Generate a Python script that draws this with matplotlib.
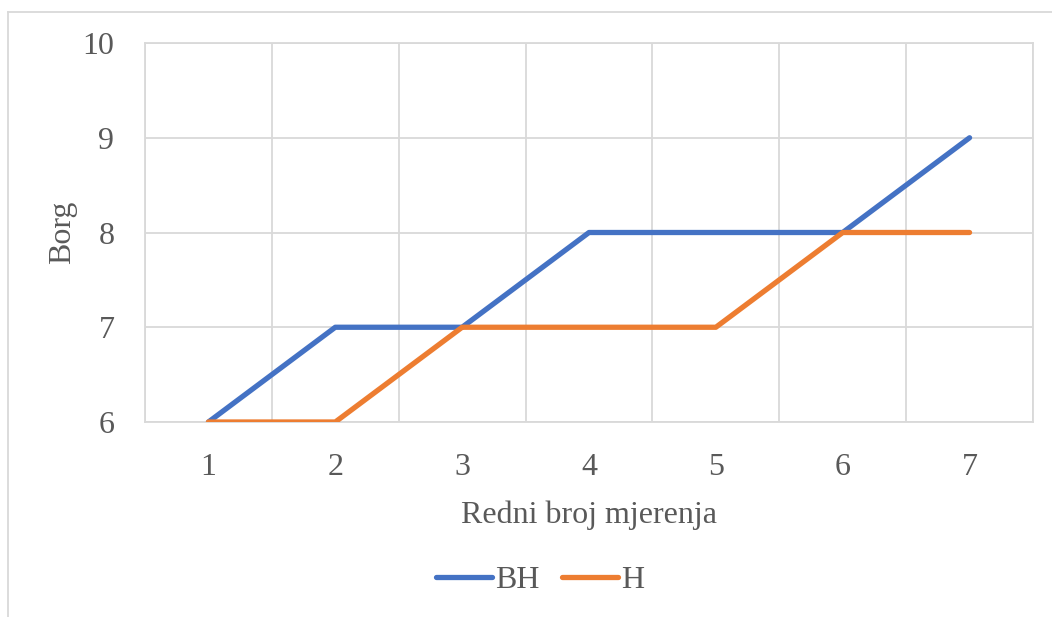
import matplotlib
matplotlib.use("Agg")
import matplotlib.pyplot as plt
from matplotlib.lines import Line2D

x_labels = [1, 2, 3, 4, 5, 6, 7]
bh = [6, 7, 7, 8, 8, 8, 9]
h = [6, 6, 7, 7, 7, 8, 8]

plt.rcParams['font.family'] = ['Liberation Serif', 'DejaVu Serif']
fig = plt.figure(figsize=(10.52, 6.17), dpi=100)
W, H = 1052, 617
ax = fig.add_axes([145 / W, 1 - 422 / H, (1033 - 145) / W, (422 - 43) / H])

grid_c = '#D9D9D9'
txt_c = '#595959'
ax.plot(x_labels, bh, color='#4472C4', lw=3.8, solid_capstyle='round', label='BH', zorder=3)
ax.plot(x_labels, h, color='#ED7D31', lw=3.8, solid_capstyle='round', label='H', zorder=3)

ax.set_xlim(0.5, 7.5)
ax.set_ylim(6, 10)
ax.set_xticks(x_labels)
ax.set_xticks([i + 0.5 for i in range(0, 8)], minor=True)
ax.set_yticks([6, 7, 8, 9, 10])
ax.grid(which='minor', axis='x', color=grid_c, lw=1.3)
ax.grid(which='major', axis='y', color=grid_c, lw=1.3)
ax.tick_params(which='both', length=0)
ax.tick_params(axis='x', pad=22, labelsize=23, colors=txt_c)
ax.tick_params(axis='y', pad=22, labelsize=23, colors=txt_c)
for s in ax.spines.values():
    s.set_color(grid_c)
    s.set_linewidth(1.3)

ax.set_xlabel('Redni broj mjerenja', fontsize=23, color=txt_c, labelpad=14)
ax.set_ylabel('Borg', fontsize=23, color=txt_c, labelpad=4)

ax.legend(loc='center', bbox_to_anchor=(540 / W, 1 - 580 / H), bbox_transform=fig.transFigure,
          ncol=2, frameon=False, fontsize=23, labelcolor=txt_c, handlelength=1.75,
          handletextpad=0.1, columnspacing=0.7)

# outer chart border
fig.add_artist(Line2D([8 / W, 8 / W], [0, 1 - 12 / H], color=grid_c, lw=1.3, transform=fig.transFigure))
fig.add_artist(Line2D([8 / W, 1], [1 - 12 / H, 1 - 12 / H], color=grid_c, lw=1.3, transform=fig.transFigure))

fig.savefig('out.png', dpi=100)
